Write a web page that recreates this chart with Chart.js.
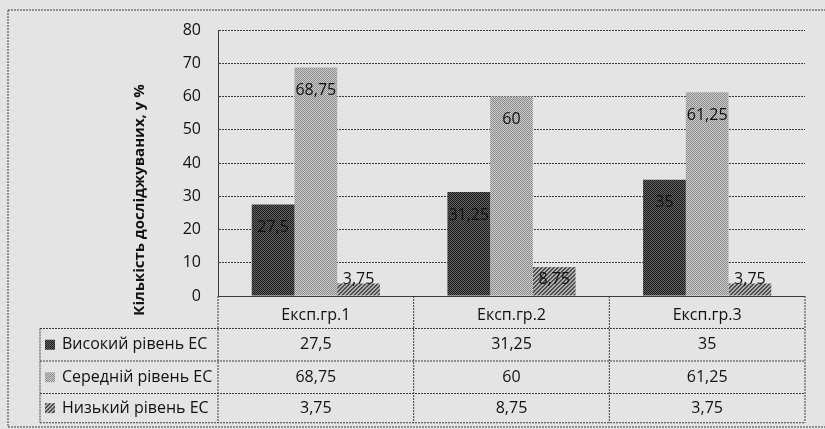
<!DOCTYPE html>
<html lang="uk">
<head>
  <meta charset="UTF-8">
  <title>Рівні ЕС за групами</title>
  <script src="https://cdn.jsdelivr.net/npm/chart.js"></script>
  <style>
    * { margin: 0; padding: 0; box-sizing: border-box; }
    body { background: #e2e2e2; width: 825px; height: 429px; overflow: hidden; }
    canvas { display: block; }
  </style>
</head>
<body>
  <canvas id="chart" width="825" height="429"></canvas>

  <script>
    // data
    const groups = ['Експ.гр.1', 'Експ.гр.2', 'Експ.гр.3'];
    const seriesNames = ['Високий рівень ЕС', 'Середній рівень ЕС', 'Низький рівень ЕС'];
    const highLevel = [27.5, 31.25, 35];
    const midLevel = [68.75, 60, 61.25];
    const lowLevel = [3.75, 8.75, 3.75];
    const yTitle = 'Кількість досліджуваних, у %';

    const FONT = '"Open Sans", "Noto Sans", sans-serif';
    const LINE = '#3c3c3c';
    const DASH = [2, 1];

    // little dithered fills, like the printed hatching
    function makePattern(a, b, kind) {
      const c = document.createElement('canvas');
      c.width = 4; c.height = 4;
      const g = c.getContext('2d');
      g.fillStyle = b;
      g.fillRect(0, 0, 4, 4);
      g.fillStyle = a;
      for (let y = 0; y < 4; y++) {
        for (let x = 0; x < 4; x++) {
          const on = kind === 'diag' ? ((x + y) % 4 < 2) : ((x + y) % 2 === 0);
          if (on) g.fillRect(x, y, 1, 1);
        }
      }
      return g.createPattern(c, 'repeat');
    }

    const ctx = document.getElementById('chart').getContext('2d');
    const fills = [
      makePattern('#1c1c1c', '#646464', 'check'),
      makePattern('#8a8a8a', '#cdcdcd', 'check'),
      makePattern('#4e4e4e', '#b0b0b0', 'diag')
    ];

    const fmt = v => String(v).replace('.', ',');

    function dashedLine(c, x1, y1, x2, y2) {
      c.beginPath();
      c.moveTo(x1, y1);
      c.lineTo(x2, y2);
      c.stroke();
    }

    const tablePlugin = {
      id: 'tablePlugin',
      beforeDraw(chart) {
        const c = chart.ctx;
        c.save();
        c.fillStyle = '#e4e4e4';
        c.fillRect(0, 0, chart.width, chart.height);
        c.restore();
      },
      afterDraw(chart) {
        const c = chart.ctx;
        const area = chart.chartArea;
        const xs = chart.scales.x;
        const colW = (area.right - area.left) / groups.length;
        const rowH = 32.5;
        const tableLeft = 40;
        const rows = [area.bottom, area.bottom + rowH, area.bottom + 2 * rowH, area.bottom + 3 * rowH, area.bottom + 3.9 * rowH];

        c.save();
        c.strokeStyle = LINE;
        c.lineWidth = 1;
        c.setLineDash(DASH);

        // table grid
        dashedLine(c, area.left, rows[0] + 0.5, area.right, rows[0] + 0.5);
        for (let r = 1; r < rows.length; r++) {
          dashedLine(c, tableLeft, rows[r], area.right, rows[r]);
        }
        dashedLine(c, tableLeft, rows[1], tableLeft, rows[4]);
        dashedLine(c, area.left, area.bottom, area.left, rows[4]);
        for (let i = 0; i < groups.length; i++) {
          const xr = xs.getPixelForValue(i) + colW / 2;
          dashedLine(c, xr, rows[0], xr, rows[4]);
        }

        // outer frame
        dashedLine(c, 8, 10, 830, 10);
        dashedLine(c, 8, 10, 8, 427);
        dashedLine(c, 8, 427, 830, 427);
        c.setLineDash([]);

        // table rows: legend mark, name, values
        const series = [highLevel, midLevel, lowLevel];
        c.font = '16px ' + FONT;
        c.textBaseline = 'middle';
        c.fillStyle = '#111';
        for (let s = 0; s < series.length; s++) {
          const yMid = (rows[s + 1] + rows[s + 2]) / 2;
          c.fillStyle = fills[s];
          c.fillRect(45, yMid - 5, 10, 10);
          c.fillStyle = '#111';
          c.textAlign = 'left';
          c.fillText(seriesNames[s], 62, yMid);
          c.textAlign = 'center';
          for (let i = 0; i < groups.length; i++) {
            c.fillText(fmt(series[s][i]), xs.getPixelForValue(i), yMid);
          }
        }

        // value labels on the bars
        c.font = '16px ' + FONT;
        chart.data.datasets.forEach((ds, d) => {
          chart.getDatasetMeta(d).data.forEach((bar, i) => {
            const y = Math.min(bar.y + 23, bar.base - 16);
            c.fillText(fmt(ds.data[i]), bar.x, y);
          });
        });

        // rotated axis title
        c.translate(140, 200);
        c.rotate(-Math.PI / 2);
        c.font = 'bold 15px ' + FONT;
        c.fillText(yTitle, 0, 0);
        c.restore();
      }
    };

    new Chart(ctx, {
      type: 'bar',
      data: {
        labels: groups,
        datasets: [
          { label: seriesNames[0], data: highLevel, backgroundColor: fills[0] },
          { label: seriesNames[1], data: midLevel, backgroundColor: fills[1] },
          { label: seriesNames[2], data: lowLevel, backgroundColor: fills[2] }
        ]
      },
      options: {
        responsive: false,
        animation: false,
        devicePixelRatio: 1,
        layout: { padding: { top: 30, right: 20, left: 0, bottom: 0 } },
        datasets: { bar: { categoryPercentage: 0.655, barPercentage: 1 } },
        plugins: {
          legend: { display: false },
          tooltip: { enabled: false }
        },
        scales: {
          x: {
            grid: { display: false },
            border: { display: false },
            ticks: { color: '#111', font: { family: FONT, size: 16 }, padding: 2 },
            afterFit(scale) { scale.height = 133; }
          },
          y: {
            min: 0,
            max: 80,
            ticks: { stepSize: 10, color: '#111', font: { family: FONT, size: 16 }, padding: 17 },
            grid: { color: LINE, drawTicks: false, tickLength: 0 },
            border: { display: true, color: LINE, dash: DASH },
            afterFit(scale) { scale.width = 218; }
          }
        }
      },
      plugins: [tablePlugin]
    });
  </script>
</body>
</html>
